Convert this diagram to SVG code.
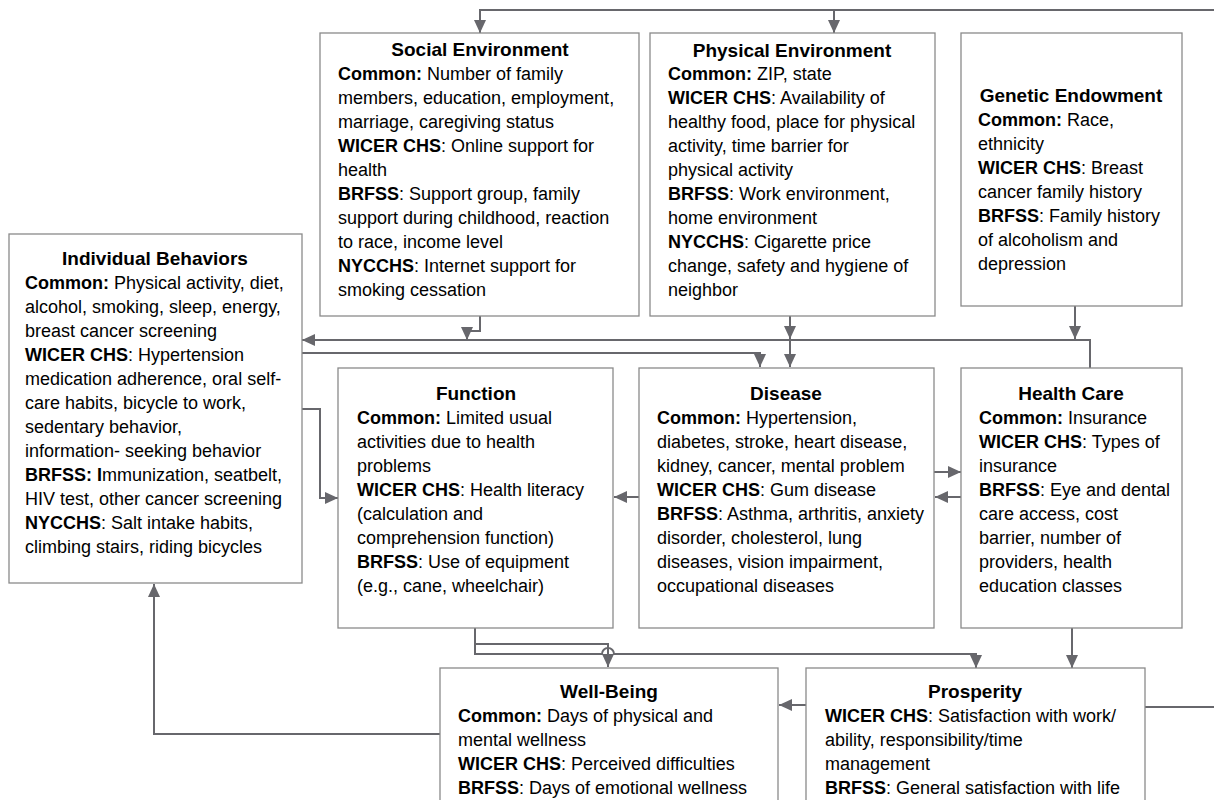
<svg xmlns="http://www.w3.org/2000/svg" width="1214" height="800" viewBox="0 0 1214 800">
<style>
.box{fill:#fff;stroke:#8a8a8a;stroke-width:1.3}
text{font-family:"Liberation Sans",Arial,sans-serif;font-size:18px;fill:#000}
.h{font-weight:bold;font-size:19px;text-anchor:middle}
.b{font-weight:bold}
.c{fill:none;stroke:#67676c;stroke-width:2}
</style>
<defs>
<marker id="ah" viewBox="0 0 13 12" refX="13" refY="6" markerWidth="13" markerHeight="12" markerUnits="userSpaceOnUse" orient="auto">
<path d="M0,0 L13,6 L0,12 z" fill="#67676c"/>
</marker>
</defs>
<rect width="1214" height="800" fill="#fff"/>

<g id="connectors">
<path class="c" d="M1145,707 H1220"/>
<path class="c" d="M1220,10 H480 V33" marker-end="url(#ah)"/>
<path class="c" d="M834,10 V33" marker-end="url(#ah)"/>
<path class="c" d="M480,316 V331 H467 V340" marker-end="url(#ah)"/>
<path class="c" d="M1090,368 V340 H302" marker-end="url(#ah)"/>
<path class="c" d="M1075,306 V339" marker-end="url(#ah)"/>
<path class="c" d="M790,316 V339" marker-end="url(#ah)"/>
<path class="c" d="M790,339 V367" marker-end="url(#ah)"/>
<path class="c" d="M302,353 H760 V367" marker-end="url(#ah)"/>
<path class="c" d="M302,409 H320 V498 H338" marker-end="url(#ah)"/>
<path class="c" d="M639,497 H614" marker-end="url(#ah)"/>
<path class="c" d="M934,472 H961" marker-end="url(#ah)"/>
<path class="c" d="M961,497 H935" marker-end="url(#ah)"/>
<path class="c" d="M475,628 V644 H608 V667" marker-end="url(#ah)"/>
<path class="c" d="M475,644 V654 H602 A6,6 0 0 1 614,654 H976 V668" marker-end="url(#ah)"/>
<path class="c" d="M1072,628 V668" marker-end="url(#ah)"/>
<path class="c" d="M806,705 H779" marker-end="url(#ah)"/>
<path class="c" d="M440,734 H154 V584" marker-end="url(#ah)"/>
</g>

<g id="social">
<rect class="box" x="320" y="33" width="319" height="283"/>
<text class="h" x="480" y="56">Social Environment</text>
<text x="338" y="80"><tspan class="b">Common:</tspan> Number of family</text>
<text x="338" y="104">members, education, employment,</text>
<text x="338" y="128">marriage, caregiving status</text>
<text x="338" y="152"><tspan class="b">WICER CHS</tspan>: Online support for</text>
<text x="338" y="176">health</text>
<text x="338" y="200"><tspan class="b">BRFSS</tspan>: Support group, family</text>
<text x="338" y="224">support during childhood, reaction</text>
<text x="338" y="248">to race, income level</text>
<text x="338" y="272"><tspan class="b">NYCCHS</tspan>: Internet support for</text>
<text x="338" y="296">smoking cessation</text>
</g>

<g id="physical">
<rect class="box" x="650" y="33" width="285" height="283"/>
<text class="h" x="792" y="57">Physical Environment</text>
<text x="668" y="80"><tspan class="b">Common:</tspan> ZIP, state</text>
<text x="668" y="104"><tspan class="b">WICER CHS</tspan>: Availability of</text>
<text x="668" y="128">healthy food, place for physical</text>
<text x="668" y="152">activity, time barrier for</text>
<text x="668" y="176">physical activity</text>
<text x="668" y="200"><tspan class="b">BRFSS</tspan>: Work environment,</text>
<text x="668" y="224">home environment</text>
<text x="668" y="248"><tspan class="b">NYCCHS</tspan>: Cigarette price</text>
<text x="668" y="272">change, safety and hygiene of</text>
<text x="668" y="296">neighbor</text>
</g>

<g id="genetic">
<rect class="box" x="961" y="33" width="221" height="273"/>
<text class="h" x="1071" y="102">Genetic Endowment</text>
<text x="978" y="126"><tspan class="b">Common:</tspan> Race,</text>
<text x="978" y="150">ethnicity</text>
<text x="978" y="174"><tspan class="b">WICER CHS</tspan>: Breast</text>
<text x="978" y="198">cancer family history</text>
<text x="978" y="222"><tspan class="b">BRFSS</tspan>: Family history</text>
<text x="978" y="246">of alcoholism and</text>
<text x="978" y="270">depression</text>
</g>

<g id="individual">
<rect class="box" x="9" y="234" width="293" height="349"/>
<text class="h" x="155" y="265">Individual Behaviors</text>
<text x="25" y="289"><tspan class="b">Common:</tspan> Physical activity, diet,</text>
<text x="25" y="313">alcohol, smoking, sleep, energy,</text>
<text x="25" y="337">breast cancer screening</text>
<text x="25" y="361"><tspan class="b">WICER CHS</tspan>: Hypertension</text>
<text x="25" y="385">medication adherence, oral self-</text>
<text x="25" y="409">care habits, bicycle to work,</text>
<text x="25" y="433">sedentary behavior,</text>
<text x="25" y="457">information- seeking behavior</text>
<text x="25" y="481"><tspan class="b">BRFSS: I</tspan>mmunization, seatbelt,</text>
<text x="25" y="505">HIV test, other cancer screening</text>
<text x="25" y="529"><tspan class="b">NYCCHS</tspan>: Salt intake habits,</text>
<text x="25" y="553">climbing stairs, riding bicycles</text>
</g>

<g id="function">
<rect class="box" x="338" y="368" width="275" height="260"/>
<text class="h" x="476" y="400">Function</text>
<text x="357" y="424"><tspan class="b">Common:</tspan> Limited usual</text>
<text x="357" y="448">activities due to health</text>
<text x="357" y="472">problems</text>
<text x="357" y="496"><tspan class="b">WICER CHS</tspan>: Health literacy</text>
<text x="357" y="520">(calculation and</text>
<text x="357" y="544">comprehension function)</text>
<text x="357" y="568"><tspan class="b">BRFSS</tspan>: Use of equipment</text>
<text x="357" y="592">(e.g., cane, wheelchair)</text>
</g>

<g id="disease">
<rect class="box" x="639" y="368" width="295" height="260"/>
<text class="h" x="786" y="400">Disease</text>
<text x="657" y="424"><tspan class="b">Common:</tspan> Hypertension,</text>
<text x="657" y="448">diabetes, stroke, heart disease,</text>
<text x="657" y="472">kidney, cancer, mental problem</text>
<text x="657" y="496"><tspan class="b">WICER CHS</tspan>: Gum disease</text>
<text x="657" y="520"><tspan class="b">BRFSS</tspan>: Asthma, arthritis, anxiety</text>
<text x="657" y="544">disorder, cholesterol, lung</text>
<text x="657" y="568">diseases, vision impairment,</text>
<text x="657" y="592">occupational diseases</text>
</g>

<g id="healthcare">
<rect class="box" x="961" y="368" width="221" height="260"/>
<text class="h" x="1071" y="400">Health Care</text>
<text x="979" y="424"><tspan class="b">Common:</tspan> Insurance</text>
<text x="979" y="448"><tspan class="b">WICER CHS</tspan>: Types of</text>
<text x="979" y="472">insurance</text>
<text x="979" y="496"><tspan class="b">BRFSS</tspan>: Eye and dental</text>
<text x="979" y="520">care access, cost</text>
<text x="979" y="544">barrier, number of</text>
<text x="979" y="568">providers, health</text>
<text x="979" y="592">education classes</text>
</g>

<g id="wellbeing">
<rect class="box" x="440" y="668" width="338" height="145"/>
<text class="h" x="609" y="698">Well-Being</text>
<text x="458" y="722"><tspan class="b">Common:</tspan> Days of physical and</text>
<text x="458" y="746">mental wellness</text>
<text x="458" y="770"><tspan class="b">WICER CHS</tspan>: Perceived difficulties</text>
<text x="458" y="794"><tspan class="b">BRFSS</tspan>: Days of emotional wellness</text>
</g>

<g id="prosperity">
<rect class="box" x="806" y="668" width="339" height="145"/>
<text class="h" x="975" y="698">Prosperity</text>
<text x="825" y="722"><tspan class="b">WICER CHS</tspan>: Satisfaction with work/</text>
<text x="825" y="746">ability, responsibility/time</text>
<text x="825" y="770">management</text>
<text x="825" y="794"><tspan class="b">BRFSS</tspan>: General satisfaction with life</text>
</g>
</svg>
